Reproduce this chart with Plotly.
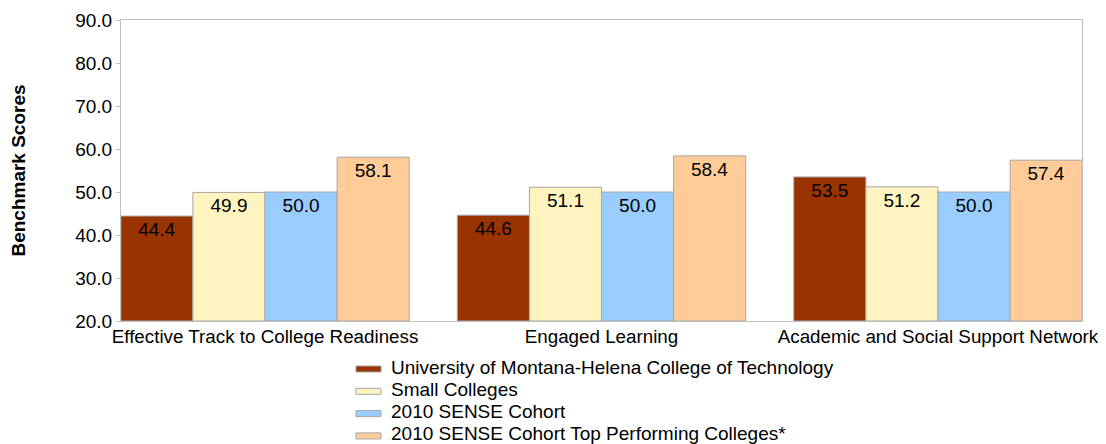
import plotly.graph_objects as go

categories = ['Effective Track to College Readiness', 'Engaged Learning',
              'Academic and Social Support Network']
series_names = ['University of Montana-Helena College of Technology',
                'Small Colleges',
                '2010 SENSE Cohort',
                '2010 SENSE Cohort Top Performing Colleges*']
montana = [44.4, 44.6, 53.5]
small_colleges = [49.9, 51.1, 51.2]
sense_cohort = [50.0, 50.0, 50.0]
top_performing = [58.1, 58.4, 57.4]
y_ticks = [20, 30, 40, 50, 60, 70, 80, 90]

colors = ['#993300', '#FFF4C0', '#99CCFF', '#FFCC99']
values = [montana, small_colleges, sense_cohort, top_performing]

fig = go.Figure()
for name, vals, col in zip(series_names, values, colors):
    fig.add_trace(go.Bar(
        x=categories, y=[v - 20 for v in vals], base=20, name=name,
        marker=dict(color=col, line=dict(color='#A6A6A6', width=1)),
        text=[f'{v:.1f}' for v in vals],
        textposition='inside', insidetextanchor='end',
        textfont=dict(size=19, color='black'),
        showlegend=False,
    ))

## legend drawn by hand: short flat swatches, tight rows like the original
leg_x0, leg_x1, leg_text_x = 0.2445, 0.2706, 0.2785
leg_y0, leg_dy = -0.1595, 0.0741
for i, (name, col) in enumerate(zip(series_names, colors)):
    yc = leg_y0 - i * leg_dy
    fig.add_shape(type='rect', xref='paper', yref='paper',
                  x0=leg_x0, x1=leg_x1, y0=yc - 0.01, y1=yc + 0.01,
                  fillcolor=col, line=dict(color='#A6A6A6', width=1))
    fig.add_annotation(x=leg_text_x, y=yc, xref='paper', yref='paper',
                       text=name, showarrow=False, xanchor='left', yanchor='middle',
                       yshift=2, font=dict(size=19))

fig.update_layout(
    width=1106, height=444,
    barmode='group', bargap=0.143, bargroupgap=0,
    plot_bgcolor='white', paper_bgcolor='white',
    font=dict(family='Liberation Sans, Arial, sans-serif', size=19, color='black'),
    margin=dict(l=113, r=32, t=12, b=131, autoexpand=False),
    uniformtext=dict(mode=False),
)
fig.update_xaxes(range=[-0.428, 2.428], showline=True, linecolor='#BFBFBF',
                 mirror=True, ticks='', tickfont=dict(size=18.8), ticklabelstandoff=-2)
fig.update_yaxes(range=[20, 90], tickvals=y_ticks,
                 ticktext=[f'{t:.1f}' for t in y_ticks],
                 showgrid=False, showline=True, linecolor='#BFBFBF', mirror=True,
                 ticks='outside', ticklen=4, tickcolor='#BFBFBF',
                 tickfont=dict(size=19),
                 title=dict(text='<b>Benchmark Scores</b>', font=dict(size=19), standoff=48))

fig.write_html('out.html')
